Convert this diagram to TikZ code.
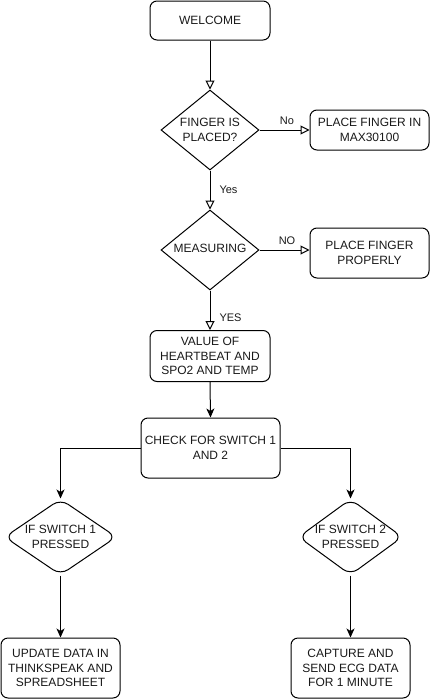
\documentclass[tikz,border=0pt]{standalone}
\usepackage{fontspec}
\setmainfont{Liberation Sans}
\usetikzlibrary{shapes.geometric,arrows.meta,positioning,calc}
\begin{document}
\begin{tikzpicture}[x=1pt,y=-1pt,
  font=\fontsize{12}{14.5}\selectfont,
  every node/.style={text=black!90},
  box/.style={draw=black, line width=1pt, rounded corners=7pt, align=center, inner sep=0pt},
  dia/.style={draw=black, line width=1pt, shape=diamond, inner sep=0pt},
  rdia/.style={dia, rounded corners=9pt},
  txt/.style={align=center, inner sep=0pt},
  openarr/.style={draw=black, line width=1pt, -{Triangle[open, length=9pt, width=9pt]}},
  fillarr/.style={draw=black, line width=1pt, -{Stealth[length=9pt, width=8pt, inset=2.5pt]}},
  lbl/.style={inner sep=0pt, font=\fontsize{11}{13}\selectfont}
]
\useasboundingbox (0,0) rectangle (432,699);
% nodes
\node[box, minimum width=120pt, minimum height=39pt] (welcome) at (210,20.5) {WELCOME};
\node[dia, minimum width=98pt, minimum height=80pt] (d1) at (210,130) {};
\node[txt] (d1t) at (210,130) {FINGER IS\\PLACED?};
\node[box, minimum width=119pt, minimum height=40pt] (pf1) at (369.5,130) {PLACE FINGER IN\\MAX30100};
\node[dia, minimum width=98pt, minimum height=80pt] (d2) at (210,250) {};
\node[txt] (d2t) at (210,248) {MEASURING};
\node[box, minimum width=119pt, minimum height=50pt] (pf2) at (369.5,253) {PLACE FINGER\\PROPERLY};
\node[box, minimum width=120pt, minimum height=51pt] (val) at (210,356) {VALUE OF\\HEARTBEAT AND\\SPO2 AND TEMP};
\node[box, minimum width=139pt, minimum height=60pt] (check) at (210.5,448) {CHECK FOR SWITCH 1\\AND 2};
\node[rdia, minimum width=112pt, minimum height=76pt] (ld) at (60.5,537) {};
\node[txt] (ldt) at (60.5,537) {IF SWITCH 1\\PRESSED};
\node[rdia, minimum width=104pt, minimum height=76pt] (rd) at (350.5,537) {};
\node[txt] (rdt) at (350.5,537) {IF SWITCH 2\\PRESSED};
\node[box, minimum width=119pt, minimum height=60pt] (lbox) at (60.5,668) {UPDATE DATA IN\\THINKSPEAK AND\\SPREADSHEET};
\node[box, minimum width=119pt, minimum height=60pt] (rbox) at (350.5,668) {CAPTURE AND\\SEND ECG DATA\\FOR 1 MINUTE};
% connectors
\draw[openarr] (welcome.south) -- (d1.north);
\draw[openarr] (d1.east) -- node[lbl, above=5pt, pos=0.55] (lno) {No} (pf1.west);
\draw[openarr] (d1.south) -- node[lbl, right=9pt, pos=0.5] (lyes) {Yes} (d2.north);
\draw[openarr] (d2.east) -- node[lbl, above=5pt, pos=0.55] (lno2) {NO} (pf2.west |- d2.east);
\draw[openarr] (d2.south) -- node[lbl, right=9pt, pos=0.68] (lyes2) {YES} (val.north);
\draw[fillarr] (val.south) -- (check.north);
\draw[fillarr] (check.west) -| (ld.north);
\draw[fillarr] (check.east) -| (rd.north);
\draw[fillarr] (ld.south) -- (lbox.north);
\draw[fillarr] (rd.south) -- (rbox.north);
\end{tikzpicture}
\end{document}
